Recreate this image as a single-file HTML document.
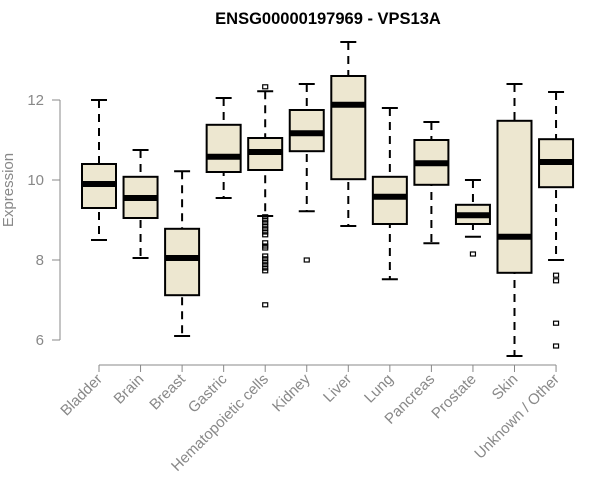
<!DOCTYPE html>
<html><head><meta charset="utf-8"><style>body{margin:0;background:#fff}svg{display:block}</style></head>
<body>
<svg id="chart" width="600" height="500" xmlns="http://www.w3.org/2000/svg" font-family="Liberation Sans, sans-serif">
<text x="328" y="24" text-anchor="middle" font-weight="bold" font-size="16.5">ENSG00000197969 - VPS13A</text>
<text transform="translate(13,190) rotate(-90)" text-anchor="middle" font-size="15" fill="#888">Expression</text>
<g id="marks"></g>
</svg>
<script>
const categories=["Bladder","Brain","Breast","Gastric","Hematopoietic cells","Kidney","Liver","Lung","Pancreas","Prostate","Skin","Unknown / Other"];
const lows=[8.5,8.05,6.1,9.55,9.1,9.22,8.85,7.52,8.42,8.58,5.6,8.0];
const q1s=[9.3,9.05,7.12,10.2,10.25,10.72,10.02,8.9,9.88,8.9,7.68,9.82];
const medians=[9.9,9.55,8.05,10.58,10.7,11.17,11.88,9.58,10.42,9.12,8.58,10.45];
const q3s=[10.4,10.08,8.78,11.38,11.05,11.75,12.6,10.08,11.0,9.38,11.48,11.02];
const highs=[12.0,10.75,10.22,12.05,12.22,12.4,13.45,11.8,11.45,10.0,12.4,12.2];
const outliers=[[],[],[],[],[12.33,9.08,9.0,8.93,8.85,8.78,8.7,8.63,8.43,8.35,8.3,8.1,8.03,7.95,7.88,7.8,7.73,6.88],[8.0],[],[],[],[8.15],[],[7.62,7.48,6.42,5.85]];
const yTicks=[6,8,10,12];
const NS="http://www.w3.org/2000/svg";
const g=document.getElementById('marks');
const y=v=>340-(v-6)*40;
const x=i=>99+i*41.55;
function el(t,a){const e=document.createElementNS(NS,t);for(const k in a)e.setAttribute(k,a[k]);g.appendChild(e);return e;}
let ax=el('line',{x1:60,x2:60,y1:y(yTicks[0]),y2:y(yTicks[yTicks.length-1]),stroke:'#888'});


yTicks.forEach(t=>{
 let l=el('line',{x1:52,x2:60,y1:y(t),y2:y(t),stroke:'#888'});
 
 
 let tx=el('text',{x:44,y:y(t)+5,'text-anchor':'end','font-size':15,fill:'#888'});tx.textContent=t;
 
 
});
let xa=el('line',{x1:x(0),x2:x(categories.length-1),y1:365,y2:365,stroke:'#888'});


categories.forEach((c,i)=>{
 const cx=x(i),w=17;
 let tk=el('line',{x1:cx,x2:cx,y1:365,y2:372,stroke:'#888'});
 
 
 let lb=el('text',{transform:`translate(${cx+4},${380}) rotate(-45)`,'text-anchor':'end','font-size':15,fill:'#888'});lb.textContent=c;
 
 
 let wh=el('line',{x1:cx,x2:cx,y1:y(highs[i]),y2:y(lows[i]),stroke:'#000','stroke-width':2,'stroke-dasharray':'8,6'});
 
 
 [highs[i],lows[i]].forEach(v=>{let c2=el('line',{x1:cx-8,x2:cx+8,y1:y(v),y2:y(v),stroke:'#000','stroke-width':2});
  
  });
 let bx=el('rect',{x:cx-w,width:2*w,y:y(q3s[i]),height:y(q1s[i])-y(q3s[i]),fill:'#ede7d0',stroke:'#000','stroke-width':2});
 
 
 let md=el('line',{x1:cx-w,x2:cx+w,y1:y(medians[i]),y2:y(medians[i]),stroke:'#000','stroke-width':6});
 
 
 outliers[i].forEach(v=>{let o=el('rect',{x:cx-2.5,y:y(v)-2,width:5,height:4,fill:'none',stroke:'#000','stroke-width':1.2});
  
  });
});
</script>
</body></html>
